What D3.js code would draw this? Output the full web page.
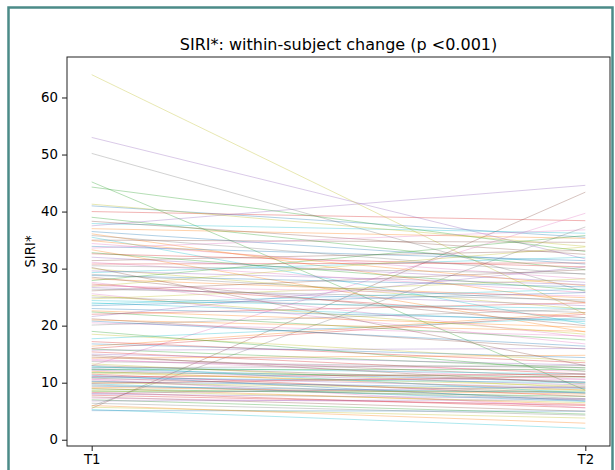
<!DOCTYPE html>
<html>
<head>
<meta charset="utf-8">
<script src="https://cdn.jsdelivr.net/npm/d3@7"></script>
<style>
  body { margin: 0; background: #fff; }
  svg { display: block; font-family: 'DejaVu Sans', sans-serif; }
</style>
</head>
<body>
<div id="chart"></div>
<script>
// paired values per subject, T1 -> T2
const timepoints = ['T1', 'T2'];
const t1 = [41.0, 37.0, 45.2, 40.0, 53.0, 5.5, 13.0, 50.2, 64.0, 37.9,
  36.5, 36.1, 44.3, 16.0, 37.5, 35.0, 34.4, 5.9, 41.3, 35.5,
  33.9, 33.3, 39.0, 32.6, 32.0, 31.4, 31.1, 30.5, 30.0, 29.3,
  28.8, 28.2, 27.9, 27.3, 26.7, 26.1, 25.6, 25.0, 24.7, 24.0,
  23.5, 22.6, 22.4, 22.0, 21.6, 21.2, 20.5, 20.1, 18.5, 17.7,
  16.8, 16.4, 15.9, 15.4, 15.0, 14.5, 14.1, 13.7, 13.3, 12.7,
  12.4, 12.0, 11.8, 11.5, 11.1, 10.8, 10.5, 10.3, 10.0, 9.8,
  9.4, 9.0, 8.9, 8.3, 8.0, 7.5, 7.3, 6.4, 5.7, 5.3,
  5.1, 6.0, 7.0, 11.0, 12.2, 13.0, 10.6, 9.6, 8.6, 12.9,
  11.3, 34.9, 32.8, 30.8, 29.6, 28.5, 27.0, 26.4, 25.3, 24.4,
  23.0, 21.0, 19.0, 17.2, 15.7, 14.8, 13.9, 12.6, 11.7, 10.9,
  10.2, 9.2, 8.5, 7.8, 6.8, 38.3, 33.6, 29.0, 26.9, 23.8,
  20.8, 14.3, 12.3, 9.9, 8.1, 30.2, 27.6, 35.8];
const t2 = [35.5, 35.3, 8.7, 38.4, 31.7, 43.4, 39.7, 26.0, 22.0, 36.2,
  30.8, 24.0, 33.0, 22.0, 44.6, 34.6, 28.2, 37.3, 33.9, 20.3,
  31.4, 18.9, 29.8, 30.3, 27.6, 33.2, 25.8, 29.1, 22.9, 32.0,
  26.8, 24.9, 35.8, 21.4, 23.5, 29.8, 16.8, 22.3, 28.2, 20.7,
  25.8, 19.7, 17.5, 24.0, 30.3, 15.9, 18.2, 22.9, 13.8, 21.4,
  14.4, 22.3, 12.6, 11.5, 13.1, 11.0, 10.6, 12.6, 9.1, 11.5,
  10.1, 8.7, 11.0, 7.6, 9.1, 8.2, 10.6, 7.2, 8.7, 6.7,
  8.2, 6.2, 7.6, 5.6, 7.2, 5.0, 6.2, 4.3, 3.8, 2.0,
  5.0, 2.9, 4.5, 11.5, 9.6, 10.1, 5.6, 7.0, 6.5, 8.2,
  6.8, 27.0, 26.2, 31.0, 27.2, 20.0, 25.2, 24.5, 18.5, 23.0,
  21.0, 19.0, 12.0, 13.5, 16.0, 9.8, 12.0, 13.0, 9.4, 10.0,
  9.0, 8.0, 8.5, 6.0, 7.0, 32.5, 36.8, 24.2, 33.8, 26.4,
  16.4, 14.8, 12.3, 11.1, 9.3, 13.0, 18.0, 29.0];
const yTicks = [0, 10, 20, 30, 40, 50, 60];
const title = 'SIRI*: within-subject change (p <0.001)';
const yLabel = 'SIRI*';

const width = 615, height = 470;
const margin = {top: 57, right: 5, bottom: 24, left: 67};
const plotW = width - margin.left - margin.right;
const plotH = height - margin.top - margin.bottom;
const tab10 = d3.schemeCategory10;

const svg = d3.select('#chart').append('svg')
  .attr('width', width)
  .attr('height', height);

// teal frame round the figure
svg.append('rect')
  .attr('x', 8.5).attr('y', 7.5)
  .attr('width', 604).attr('height', 480)
  .attr('fill', 'none')
  .attr('stroke', '#4b8b88')
  .attr('stroke-width', 2.5);

// matplotlib style 5% margins
const all = t1.concat(t2);
const lo = d3.min(all), hi = d3.max(all);
const pad = (hi - lo) * 0.05;

const x = d3.scaleLinear().domain([-0.05, 1.05]).range([0, plotW]);
const y = d3.scaleLinear().domain([lo - pad, hi + pad]).range([plotH, 0]);

const g = svg.append('g')
  .attr('transform', `translate(${margin.left}, ${margin.top})`);

const pairs = t1.map((v, i) => [v, t2[i]]);
const line = d3.line()
  .x((d, i) => x(i))
  .y(d => y(d));

g.append('g').attr('class', 'subjects')
  .selectAll('path')
  .data(pairs)
  .enter()
  .append('path')
  .attr('d', line)
  .attr('fill', 'none')
  .attr('stroke', (d, i) => tab10[i % 10])
  .attr('stroke-opacity', 0.35)
  .attr('stroke-width', 1);

const yAxis = g.append('g')
  .call(d3.axisLeft(y).tickValues(yTicks).tickSize(5).tickPadding(4));
const xAxis = g.append('g')
  .attr('transform', `translate(0, ${plotH})`)
  .call(d3.axisBottom(x).tickValues([0, 1]).tickFormat(i => timepoints[i]).tickSize(5).tickPadding(4));

[yAxis, xAxis].forEach(a => {
  a.select('.domain').remove();
  a.selectAll('text').attr('font-size', 13.3).attr('fill', '#000').attr('font-family', 'DejaVu Sans');
  a.selectAll('line').attr('stroke', '#000').attr('stroke-width', 0.9);
});

// spines
g.append('rect')
  .attr('width', plotW).attr('height', plotH)
  .attr('fill', 'none')
  .attr('stroke', '#222')
  .attr('stroke-width', 1);

svg.append('text')
  .attr('x', margin.left + plotW / 2)
  .attr('y', margin.top - 7)
  .attr('text-anchor', 'middle')
  .attr('font-size', 16)
  .text(title);

svg.append('text')
  .attr('transform', `translate(${35}, ${margin.top + plotH / 2}) rotate(-90)`)
  .attr('text-anchor', 'middle')
  .attr('font-size', 13.3)
  .text(yLabel);
</script>
</body>
</html>
